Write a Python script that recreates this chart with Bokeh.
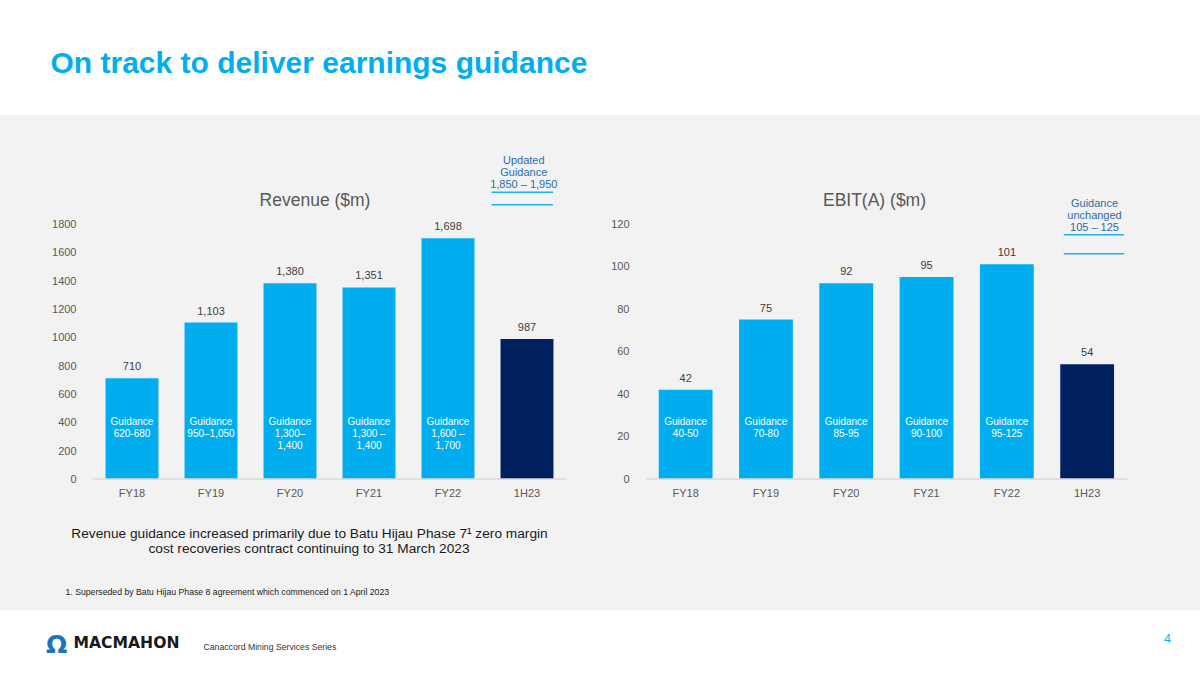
from bokeh.plotting import figure
from bokeh.models import Range1d, FixedTicker, ColumnDataSource
from bokeh.layouts import column, row
from bokeh.embed import file_html
from bokeh.resources import INLINE
from bokeh.core.properties import value

# ---------------- data ----------------
categories = ["FY18", "FY19", "FY20", "FY21", "FY22", "1H23"]

revenue = [710, 1103, 1380, 1351, 1698, 987]
revenue_labels = ["710", "1,103", "1,380", "1,351", "1,698", "987"]
revenue_guidance = ["Guidance\n620-680", "Guidance\n950\u20131,050", "Guidance\n1,300\u2013\n1,400",
                    "Guidance\n1,300 \u2013\n1,400", "Guidance\n1,600 \u2013\n1,700", ""]
revenue_ticks = [0, 200, 400, 600, 800, 1000, 1200, 1400, 1600, 1800]
revenue_note = ["Updated", "Guidance", "1,850 \u2013 1,950"]

ebit = [42, 75, 92, 95, 101, 54]
ebit_labels = ["42", "75", "92", "95", "101", "54"]
ebit_guidance = ["Guidance\n40-50", "Guidance\n70-80", "Guidance\n85-95",
                 "Guidance\n90-100", "Guidance\n95-125", ""]
ebit_ticks = [0, 20, 40, 60, 80, 100, 120]
ebit_note = ["Guidance", "unchanged", "105 \u2013 125"]

current_period = "1H23"

# ---------------- style ----------------
FONT = "Liberation Sans"
GREY = "#F2F2F2"
BLUE = "#00AEEF"
NAVY = "#002060"
NOTE_BLUE = "#2E6DA4"
AXIS_TXT = "#595959"
VAL_TXT = "#404040"

W = 1200
HEADER_H = 115
CHART_H = 400          # page y 115 .. 515
NOTES_H = 95           # page y 515 .. 610
FOOTER_H = 65          # page y 610 .. 675
FRAME_TOP = 115
FRAME_BOTTOM = 480
BASE_PX = 478.5
TOP_TICK_PX = 223.3
GUIDE_TOP_PX = 415


def deco_fig(height, top, bg):
    p = figure(width=W, height=height, x_range=Range1d(0, W), y_range=Range1d(top + height, top),
               output_backend="svg", toolbar_location=None,
               x_axis_location=None, y_axis_location=None,
               min_border=0, background_fill_alpha=0, border_fill_color=bg,
               outline_line_color=None, styles={"background-color": bg})
    p.grid.visible = False
    return p


def bar_chart(title, title_x, vals, labels, guide, ticks, note, note_x, note_y0,
              line_x0, line_x1, line_ys, fig_left, frame_left, unit, fig_w):
    n = len(categories)
    xs = list(range(n))
    k = (BASE_PX - TOP_TICK_PX) / max(ticks)
    p = figure(width=fig_w, height=CHART_H,
               x_range=Range1d(-0.5, -0.5 + (fig_left + fig_w - frame_left) / unit),
               y_range=Range1d(-(FRAME_BOTTOM - BASE_PX) / k, (BASE_PX - FRAME_TOP) / k),
               output_backend="svg", toolbar_location=None,
               min_border_left=frame_left - fig_left, min_border_right=0,
               min_border_top=0, min_border_bottom=FRAME_TOP + CHART_H - FRAME_BOTTOM,
               background_fill_alpha=0, border_fill_color=GREY, outline_line_color=None,
               styles={"background-color": GREY})
    p.extra_x_ranges = {"px": Range1d(frame_left, fig_left + fig_w)}
    p.extra_y_ranges = {"px": Range1d(FRAME_BOTTOM, FRAME_TOP)}
    p.grid.visible = False

    src = ColumnDataSource(dict(
        x=xs, top=vals, label=labels, guide=guide,
        color=[NAVY if c == current_period else BLUE for c in categories]))

    p.vbar(x="x", top="top", bottom=0, width=0.67, fill_color="color", line_color=None, source=src)
    p.segment(x0=-0.5, y0=0, x1=n - 0.5, y1=0, line_color="#D9D9D9", line_width=1.5)

    p.text(x="x", y="top", text="label", source=src, text_align="center", text_baseline="middle",
           y_offset=-12, text_font=value(FONT), text_font_size="11px", text_color=VAL_TXT)
    p.text(x="x", y=GUIDE_TOP_PX, text="guide", source=src, y_range_name="px",
           text_align="center", text_baseline="top", text_line_height=1.1,
           text_font=value(FONT), text_font_size="10px", text_color="white")

    # chart title
    p.text(x=[title_x], y=[199], text=[title], x_range_name="px", y_range_name="px",
           text_align="center", text_baseline="middle", text_font=value(FONT),
           text_font_size="17.5px", text_color=AXIS_TXT)
    # guidance note
    p.text(x=[note_x] * len(note), y=[note_y0 + 12 * i for i in range(len(note))], text=note,
           x_range_name="px", y_range_name="px", text_align="center", text_baseline="middle",
           text_font=value(FONT), text_font_size="11px", text_color=NOTE_BLUE)
    p.segment(x0=[line_x0] * 2, x1=[line_x1] * 2, y0=line_ys, y1=line_ys,
              x_range_name="px", y_range_name="px", line_color="#1FB2EE", line_width=1.5)

    # axes
    p.xaxis.ticker = FixedTicker(ticks=xs)
    p.xaxis.major_label_overrides = {i: c for i, c in enumerate(categories)}
    p.yaxis.ticker = FixedTicker(ticks=ticks)
    for ax in (p.xaxis, p.yaxis):
        ax.axis_line_color = None
        ax.major_tick_line_color = None
        ax.minor_tick_line_color = None
        ax.major_label_text_font = FONT
        ax.major_label_text_font_size = "11px"
        ax.major_label_text_color = AXIS_TXT
    p.yaxis.major_label_standoff = 10
    p.xaxis.major_label_standoff = 0
    return p


rev = bar_chart("Revenue ($m)", 314.5, revenue, revenue_labels, revenue_guidance, revenue_ticks,
                revenue_note, 523.3, 159, 491, 552.5, [191.7, 204.3],
                fig_left=0, frame_left=92, unit=79, fig_w=600)
ebt = bar_chart("EBIT(A) ($m)", 874, ebit, ebit_labels, ebit_guidance, ebit_ticks,
                ebit_note, 1094, 202.7, 1063.3, 1123.3, [234.3, 253.3],
                fig_left=600, frame_left=645, unit=80.3, fig_w=600)

# header
header = deco_fig(HEADER_H, 0, "white")
header.text(x=[50], y=[61.6], text=["On track to deliver earnings guidance"], text_align="left",
            text_baseline="middle", text_font=value(FONT), text_font_style="bold",
            text_font_size="30px", text_color=BLUE)

# notes
notes = deco_fig(NOTES_H, 515, GREY)
notes.text(x=[309, 308.5], y=[532.7, 548.3],
           text=["Revenue guidance increased primarily due to Batu Hijau Phase 7\u00b9 zero margin",
                 "cost recoveries contract continuing to 31 March 2023"],
           text_align="center", text_baseline="middle", text_font=value(FONT),
           text_font_size="13.7px", text_color="#1A1A1A")
notes.text(x=[65], y=[591],
           text=["1. Superseded by Batu Hijau Phase 8 agreement which commenced on 1 April 2023"],
           text_align="left", text_baseline="middle", text_font=value(FONT),
           text_font_size="8.7px", text_color="#1A1A1A")

# footer
footer = deco_fig(FOOTER_H, 610, "white")
footer.text(x=[56.2], y=[643.5], text=["\u03a9"], text_align="center", text_baseline="middle",
            text_font=value("DejaVu Sans"), text_font_style="bold", text_font_size="25px",
            text_color="#1C75BC")
footer.text(x=[73], y=[642.5], text=["MACMAHON"], text_align="left", text_baseline="middle",
            text_font=value("DejaVu Sans"), text_font_style="bold", text_font_size="15.6px",
            text_color="#1A1A1A")
footer.text(x=[203], y=[646], text=["Canaccord Mining Services Series"], text_align="left",
            text_baseline="middle", text_font=value(FONT), text_font_size="8.7px",
            text_color="#333333")
footer.text(x=[1167], y=[638], text=["4"], text_align="center", text_baseline="middle",
            text_font=value(FONT), text_font_size="12px", text_color=BLUE)

layout = column(header, row(rev, ebt, styles={"background-color": GREY}), notes, footer,
                styles={"background-color": "white"})
open("out.html", "w").write(file_html(layout, INLINE))
